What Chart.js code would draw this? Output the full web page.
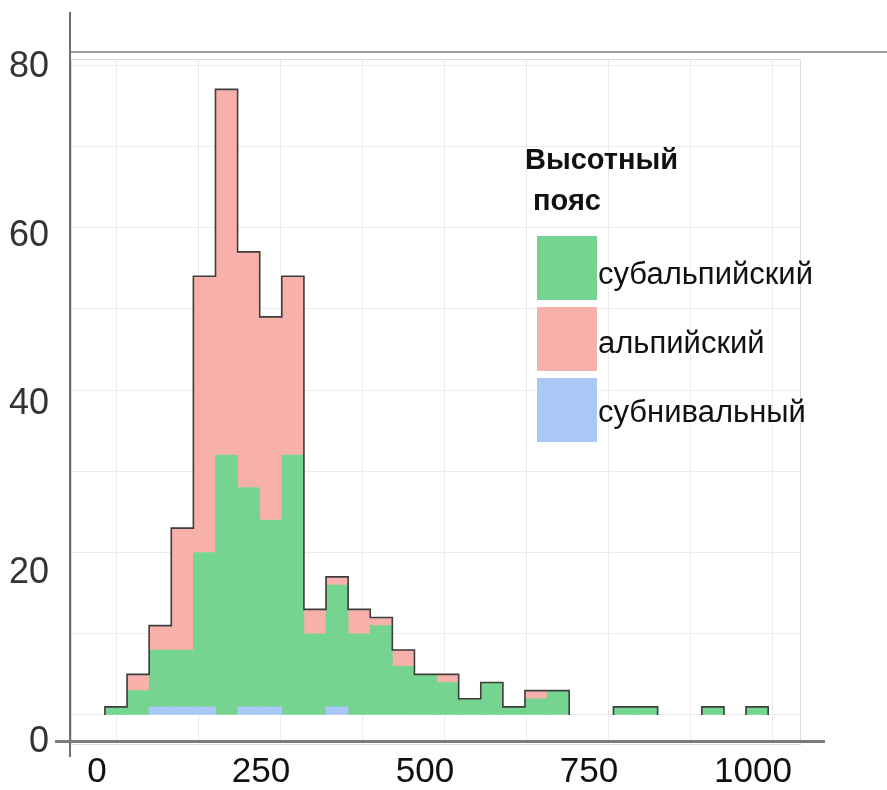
<!DOCTYPE html>
<html lang="ru">
<head>
<meta charset="utf-8">
<title>Высотный пояс</title>
<script src="https://cdn.jsdelivr.net/npm/chart.js@4.4.1/dist/chart.umd.min.js"></script>
<style>
  html, body { margin: 0; padding: 0; background: #fff; }
  #wrap { position: relative; width: 887px; height: 790px; overflow: hidden; }
  #chartCanvas { display: block; }
  #legend { position: absolute; left: 0; top: 0; font-family: "Liberation Sans", Arial, sans-serif; color: #111; }
  .legend-title { position: absolute; left: 525px; top: 139px; font-weight: bold; font-size: 29px; line-height: 41px; white-space: pre; }
  .legend-item { position: absolute; left: 537px; width: 300px; height: 70px; }
  .legend-box { position: absolute; left: 0; top: 0; width: 60px; height: 64px; }
  .legend-label { position: absolute; left: 61px; top: 20px; font-size: 31px; line-height: 35px; white-space: nowrap; }
</style>
</head>
<body>
<div id="wrap">
  <canvas id="chartCanvas" width="887" height="790"></canvas>
  <div id="legend"></div>
</div>
<script>
// --- Data (histogram, 30 bins) ---
const binWidth = 33.7;
const binCenters = [0, 33.7, 67.4, 101.1, 134.8, 168.5, 202.2, 235.9, 269.6, 303.3,
                    337, 370.7, 404.4, 438.1, 471.8, 505.5, 539.2, 572.9, 606.6, 640.3,
                    674, 707.7, 741.4, 775.1, 808.8, 842.5, 876.2, 909.9, 943.6, 977.3];
const subalpine = [1, 3, 7, 7, 19, 32, 27, 23, 32, 10, 15, 10, 11, 6, 5, 4, 2, 4, 1, 2, 3, 0, 0, 1, 1, 0, 0, 1, 0, 1];
const alpine    = [0, 2, 3, 15, 34, 45, 29, 25, 22, 3, 1, 3, 1, 2, 0, 1, 0, 0, 0, 1, 0, 0, 0, 0, 0, 0, 0, 0, 0, 0];
const subnival  = [0, 0, 1, 1, 1, 0, 1, 1, 0, 0, 1, 0, 0, 0, 0, 0, 0, 0, 0, 0, 0, 0, 0, 0, 0, 0, 0, 0, 0, 0];

// tick labels and grid lines
const xTickLabels = [0, 250, 500, 750, 1000];
const yTickLabels = [0, 20, 40, 60, 80];
const xGrid = [0, 125, 250, 375, 500, 625, 750, 875, 1000];
const yGrid = [0, 10, 20, 30, 40, 50, 60, 70, 80];

const legendTitle = "Высотный\n пояс";
const colors = {
  subalpine: "#74d490",
  alpine: "#f8b0ab",
  subnival: "#a9c8f8"
};

// --- Helpers ---
// empty bins are skipped so no zero-height sliver gets drawn
const toPoints = arr => arr.map((v, i) => ({ x: binCenters[i], y: v === 0 ? null : v }));
const fixTicks = values => s => { s.ticks = values.map(v => ({ value: v })); };

// outline of the total histogram, as a step path through the bin edges
function buildOutline() {
  const pts = [];
  let prev = 0;
  binCenters.forEach((c, i) => {
    const total = subalpine[i] + alpine[i] + subnival[i];
    const left = c - binWidth / 2;
    pts.push({ x: left, y: prev }, { x: left, y: total });
    prev = total;
  });
  const right = binCenters[binCenters.length - 1] + binWidth / 2;
  pts.push({ x: right, y: prev }, { x: right, y: 0 });
  return pts;
}

// --- Extra lines (axes overlay + panel border) ---
const overlayAxes = {
  id: "overlayAxes",
  afterDraw(chart) {
    const { ctx, chartArea: a, width } = chart;
    ctx.save();
    ctx.strokeStyle = "#dcdcdc";
    ctx.lineWidth = 1;
    ctx.strokeRect(a.left + 0.5, a.top + 0.5, a.right - a.left - 1, a.bottom - a.top);

    ctx.lineWidth = 2;
    ctx.strokeStyle = "#a0a0a0";
    ctx.beginPath();
    ctx.moveTo(a.left - 1, a.top - 7);
    ctx.lineTo(width, a.top - 7);
    ctx.stroke();

    ctx.strokeStyle = "#6e6e6e";
    ctx.beginPath();
    ctx.moveTo(a.left - 1, 12);
    ctx.lineTo(a.left - 1, a.bottom + 13);
    ctx.stroke();

    ctx.lineWidth = 3;
    ctx.strokeStyle = "#7a7a7a";
    ctx.beginPath();
    ctx.moveTo(a.left - 16, a.bottom - 2.5);
    ctx.lineTo(a.right + 24, a.bottom - 2.5);
    ctx.stroke();
    ctx.restore();
  }
};

Chart.defaults.font.family = '"Liberation Sans", Arial, sans-serif';

const barDefaults = { xAxisID: "x", yAxisID: "y", order: 1, borderWidth: 0, barPercentage: 1, categoryPercentage: 1 };

const chart = new Chart(document.getElementById("chartCanvas"), {
  type: "bar",
  data: {
    datasets: [
      {
        type: "line",
        label: "total",
        data: buildOutline(),
        xAxisID: "x",
        yAxisID: "y",
        stack: "outline",
        order: 0,
        borderColor: "#3d3d3d",
        borderWidth: 1.6,
        pointRadius: 0,
        fill: false,
        segment: {
          borderColor: c => (c.p0.parsed.y === 0 && c.p1.parsed.y === 0) ? "rgba(0,0,0,0)" : "#3d3d3d"
        }
      },
      { ...barDefaults, label: "субнивальный", data: toPoints(subnival), backgroundColor: colors.subnival },
      { ...barDefaults, label: "субальпийский", data: toPoints(subalpine), backgroundColor: colors.subalpine },
      { ...barDefaults, label: "альпийский", data: toPoints(alpine), backgroundColor: colors.alpine }
    ]
  },
  options: {
    responsive: false,
    devicePixelRatio: 1,
    animation: false,
    layout: { padding: { left: 0, right: 86, top: 59, bottom: 0 } },
    plugins: { legend: { display: false }, tooltip: { enabled: false } },
    scales: {
      x: {
        type: "linear", bounds: "data", min: -68.6, max: 1044.2, stacked: true, offset: false,
        afterBuildTicks: fixTicks(xGrid),
        ticks: { display: false },
        grid: { color: "#ebebeb", drawTicks: false, offset: false },
        border: { display: false }
      },
      xLab: {
        type: "linear", bounds: "data", position: "bottom", min: -39.6, max: 1073.2, offset: false,
        afterBuildTicks: fixTicks(xTickLabels),
        afterFit: s => { s.height = 46; },
        ticks: { padding: 7, font: { size: 35 }, color: "#111", maxRotation: 0, autoSkip: false, callback: v => String(v) },
        grid: { display: false, drawTicks: false, offset: false },
        border: { display: false }
      },
      y: {
        type: "linear", bounds: "data", min: -3.57, max: 80.74, stacked: true,
        afterBuildTicks: fixTicks(yGrid),
        ticks: { display: false },
        grid: { color: "#ebebeb", drawTicks: false },
        border: { display: false }
      },
      yLab: {
        type: "linear", bounds: "data", position: "left", min: -0.28, max: 80.97,
        afterBuildTicks: fixTicks(yTickLabels),
        afterFit: s => { s.width = 71; },
        ticks: { padding: 22, font: { size: 36 }, color: "#333", autoSkip: false, callback: v => String(v) },
        grid: { display: false, drawTicks: false },
        border: { display: false }
      }
    }
  },
  plugins: [overlayAxes]
});

// --- Legend (inside the panel) ---
const legendOrder = ["субальпийский", "альпийский", "субнивальный"];
const legendEl = document.getElementById("legend");
const titleEl = document.createElement("div");
titleEl.className = "legend-title";
titleEl.textContent = legendTitle;
legendEl.appendChild(titleEl);

legendOrder.forEach((name, i) => {
  const ds = chart.data.datasets.find(d => d.label === name);
  const item = document.createElement("div");
  item.className = "legend-item";
  item.style.top = (236 + i * 71) + "px";
  const box = document.createElement("div");
  box.className = "legend-box";
  box.style.background = ds.backgroundColor;
  const label = document.createElement("div");
  label.className = "legend-label";
  label.style.top = (20 - i * 2) + "px";
  label.textContent = name;
  item.appendChild(box);
  item.appendChild(label);
  legendEl.appendChild(item);
});
</script>
</body>
</html>
